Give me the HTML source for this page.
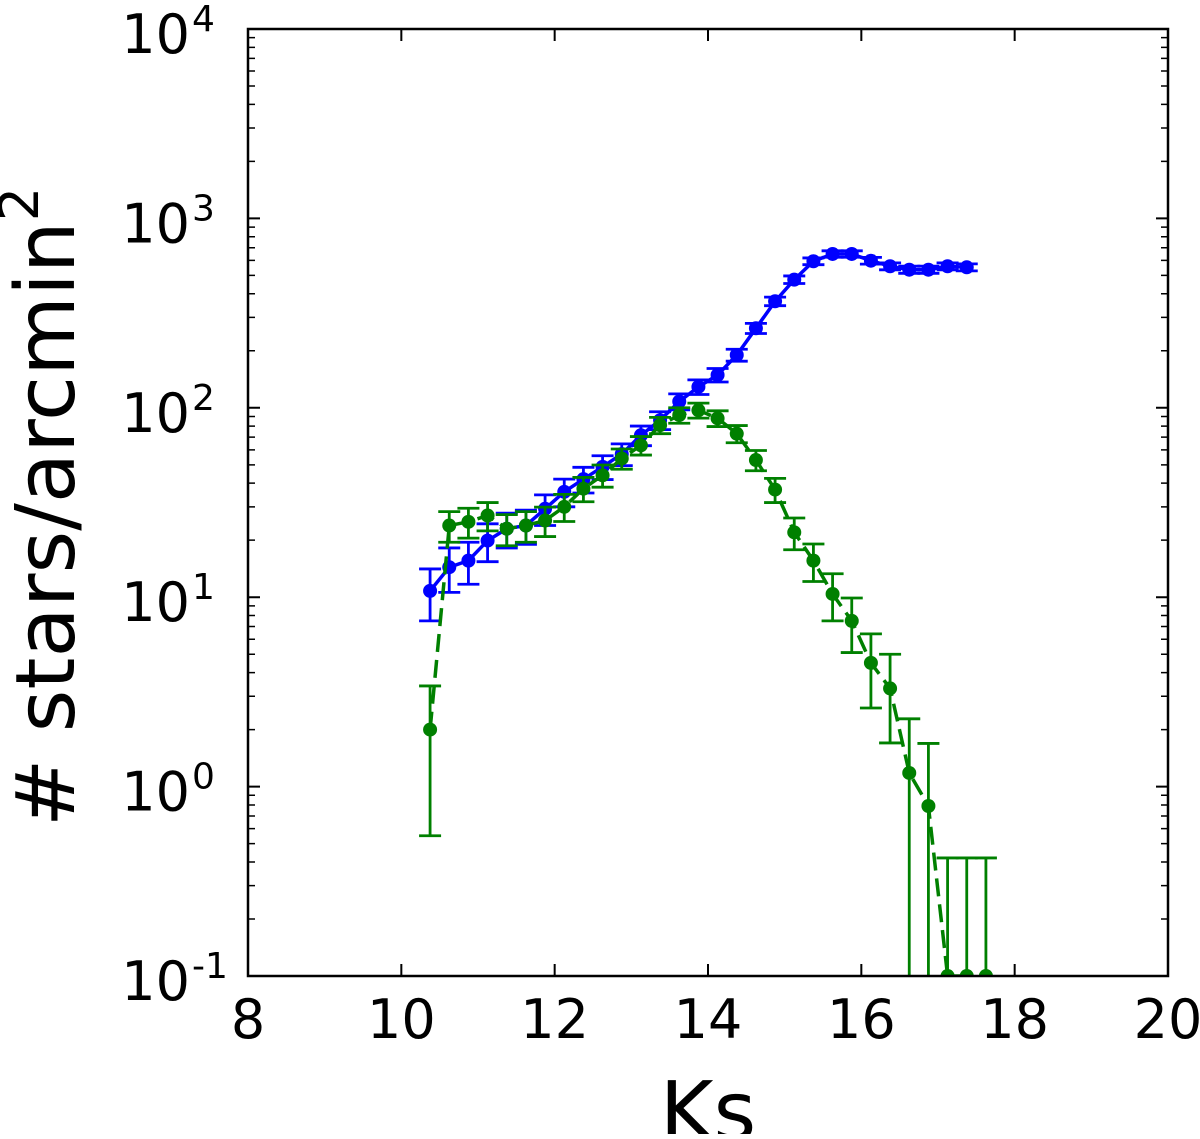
<!DOCTYPE html>
<html><head><meta charset="utf-8"><style>
html,body{margin:0;padding:0;background:#fff;overflow:hidden;}
svg text{font-family:"DejaVu Sans","Liberation Sans",sans-serif;fill:#000;}
</style></head><body>
<svg id="chart" width="1200" height="1134" viewBox="0 0 1200 1134" xmlns="http://www.w3.org/2000/svg">
<g id="marks"></g>
<g id="axes"></g>
<text x="708" y="1140" font-size="82" text-anchor="middle">Ks</text>
<text transform="translate(74,507) rotate(-90)" font-size="82" text-anchor="middle"># stars/arcmin<tspan font-size="54" dy="-36">2</tspan></text>
</svg>
<script>
const xTicks = [8, 10, 12, 14, 16, 18, 20];
const yDecades = [-1, 0, 1, 2, 3, 4];
const blueX = [10.375,10.625,10.875,11.125,11.375,11.625,11.875,12.125,12.375,12.625,12.875,13.125,13.375,13.625,13.875,14.125,14.375,14.625,14.875,15.125,15.375,15.625,15.875,16.125,16.375,16.625,16.875,17.125,17.375];
const blueY = [10.8,14.4,15.6,19.9,23,23.9,29.3,36,42,48.8,57,71.6,86,108,129,149,190,263,365,475,594,649,649,598,559,536,536,559,552];
const blueErr = [3.3,3.8,3.9,4.5,4.8,4.9,5.4,6,6.5,7,7.5,8.5,9.3,10.4,11.4,12.2,13.8,16.2,19,21.8,24.4,25.5,25.5,24.5,23.6,23.2,23.2,23.6,23.5];
const greenX = [10.375,10.625,10.875,11.125,11.375,11.625,11.875,12.125,12.375,12.625,12.875,13.125,13.375,13.625,13.875,14.125,14.375,14.625,14.875,15.125,15.375,15.625,15.875,16.125,16.375,16.625,16.875,17.125,17.375,17.625];
const greenY = [2.0,23.9,25,27,23,23.9,25.4,30,37.4,44,54,63.4,81,91.5,97,88,73,53,37,22,15.6,10.4,7.5,4.5,3.3,1.18,0.79,0,0,0];
const greenErrHi = [1.4,4.4,4.5,4.6,4.3,4.4,4.5,4.9,5.5,5.9,6.6,7.1,8,8.6,8.8,8.4,7.6,6.5,5.4,4.2,3.5,2.9,2.4,1.9,1.7,1.1,0.9,0.42,0.42,0.42];
const greenErrLo = [1.45,4.4,4.5,4.6,4.3,4.4,4.5,4.9,5.5,5.9,6.6,7.1,8,8.6,8.8,8.4,7.6,6.5,5.4,4.2,3.5,2.9,2.4,1.9,1.6,1.18,0.79,0,0,0];

const L=248,R=1168,T=29,B=976, X0=8,X1=20, LMIN=-1,LMAX=4;
const NS="http://www.w3.org/2000/svg";
function xs(v){return L+(v-X0)/(X1-X0)*(R-L);}
function ys(v){ if(v<=0) return B; const y=B-(Math.log10(v)-LMIN)/(LMAX-LMIN)*(B-T); return Math.min(B,Math.max(T,y)); }
function mk(tag,attrs,parent){const e=document.createElementNS(NS,tag);for(const k in attrs)e.setAttribute(k,attrs[k]);parent.appendChild(e);return e;}
const marks=document.getElementById('marks'), axes=document.getElementById('axes');

function series(xa,ya,lo,hi,color,dash,name){
  const g=mk('g',{},marks);
  
  
  let d='';
  xa.forEach((x,i)=>{d+=(i?'L':'M')+xs(x).toFixed(1)+','+ys(ya[i]).toFixed(1);});
  const ln=mk('path',{d:d,fill:'none',stroke:color,'stroke-width':3.5,'stroke-dasharray':dash},g);
  
  
  xa.forEach((x,i)=>{
    const cx=xs(x), y1=ys(ya[i]+hi[i]), y2=ys(ya[i]-lo[i]);
    const eb=mk('path',{d:`M${cx},${y1}L${cx},${y2}M${cx-11},${y1}L${cx+11},${y1}`+(y2<B?`M${cx-11},${y2}L${cx+11},${y2}`:''),stroke:color,'stroke-width':2.8,fill:'none'},g);
    
    
    const c=mk('circle',{cx:cx,cy:ys(ya[i]),r:7,fill:color},g);
    
    
  });
}
series(blueX,blueY,blueErr,blueErr,'#0000ff','none','blue');
series(greenX,greenY,greenErrLo,greenErrHi,'#008000','18,8','green');

const cp=mk('clipPath',{id:'clip'},document.getElementById('chart'));
mk('rect',{x:L,y:T,width:R-L,height:B-T},cp);
marks.setAttribute('clip-path','url(#clip)');

const fr=mk('rect',{x:L,y:T,width:R-L,height:B-T,fill:'none',stroke:'#000','stroke-width':2.5},axes);


xTicks.forEach(v=>{
  const x=xs(v);
  mk('path',{d:`M${x},${B}L${x},${B-12}M${x},${T}L${x},${T+12}`,stroke:'#000','stroke-width':2},axes);
  const t=mk('text',{x:x,y:1038,'font-size':54,'text-anchor':'middle'},axes);
  t.textContent=v;
  
  
});
yDecades.forEach(p=>{
  const y=ys(Math.pow(10,p));
  mk('path',{d:`M${L},${y}L${L+12},${y}M${R},${y}L${R-12},${y}`,stroke:'#000','stroke-width':2},axes);
  if(p<LMAX){for(let m=2;m<10;m++){const ym=ys(m*Math.pow(10,p));mk('path',{d:`M${L},${ym}L${L+7},${ym}M${R},${ym}L${R-7},${ym}`,stroke:'#000','stroke-width':1.5},axes);}}
  const t=mk('text',{x:190,y:y+24,'font-size':54,'text-anchor':'end'},axes);
  t.textContent='10';
  
  
  const s=mk('text',{x:192,y:y+2,'font-size':36,'text-anchor':'start'},axes);
  s.textContent=(p<0?'-':'')+Math.abs(p);
  
  
});
</script>
</body></html>
